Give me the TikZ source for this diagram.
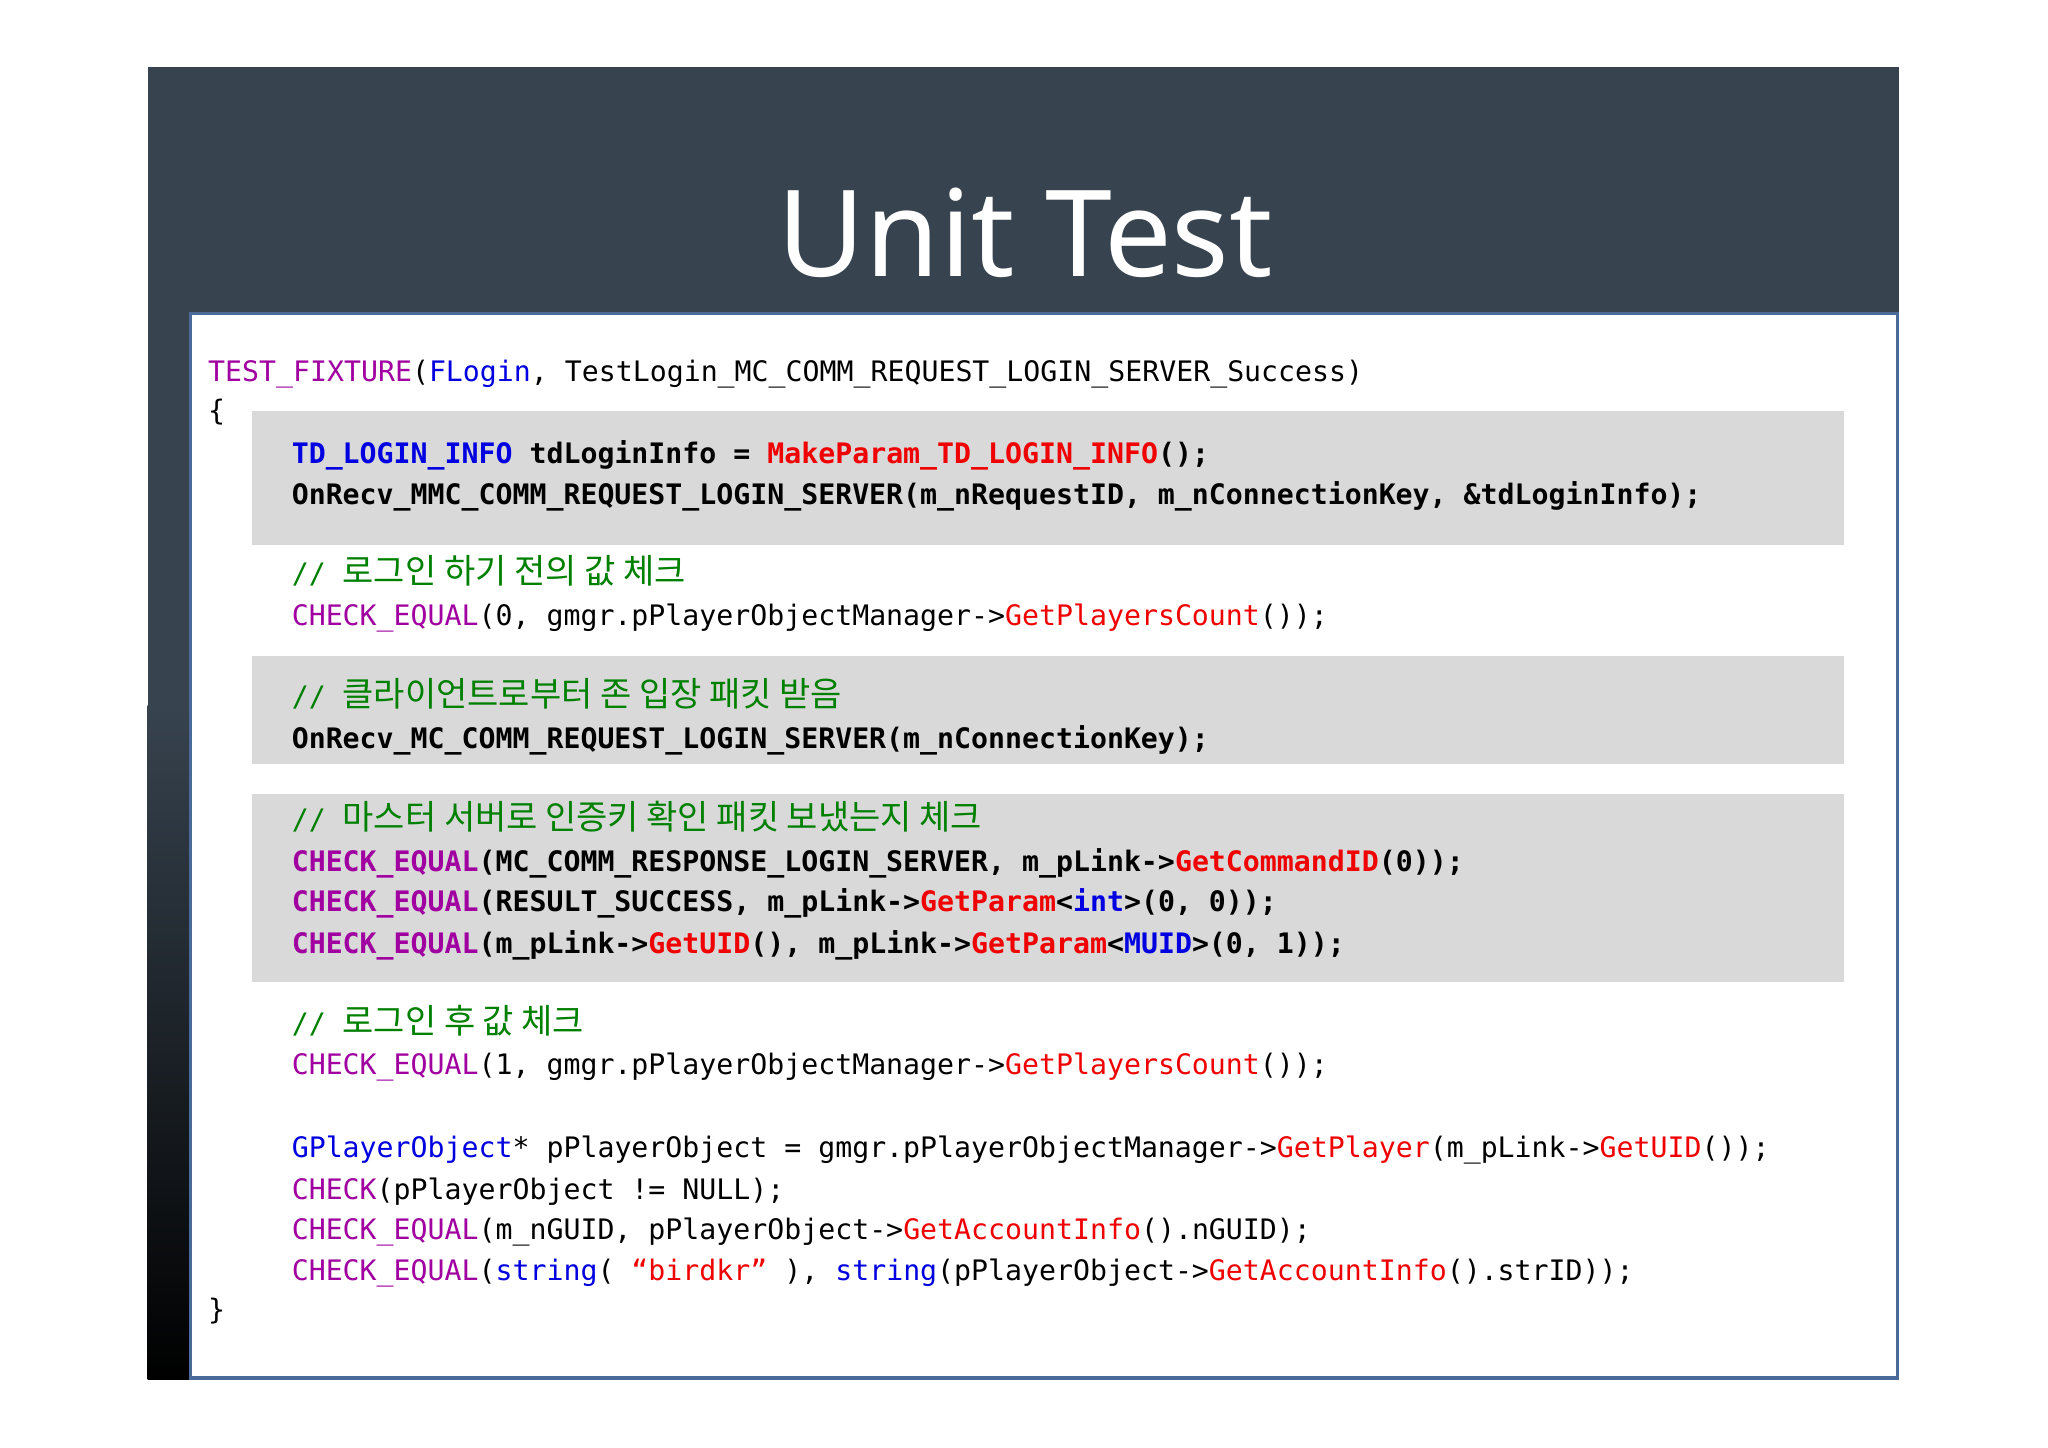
\documentclass[tikz,border=0pt]{standalone}
\usepackage{fontspec}
\setmonofont{DejaVu Sans Mono}
\newfontfamily\kr{Noto Sans CJK KR}
\newfontfamily\titlefont{Noto Sans}
\definecolor{slate}{HTML}{37434F}
\definecolor{band}{HTML}{D9D9D9}
\definecolor{mg}{HTML}{A000A0}
\definecolor{rd}{HTML}{F00000}
\definecolor{bl}{HTML}{0000E0}
\definecolor{gr}{HTML}{008000}
\definecolor{frame}{HTML}{4A6A9A}
\newcommand\M[1]{\textcolor{mg}{#1}}
\newcommand\R[1]{\textcolor{rd}{#1}}
\newcommand\B[1]{\textcolor{bl}{#1}}
\newcommand\G[1]{\textcolor{gr}{#1}}
\newcommand\K[1]{{\kr\fontsize{13}{13}\selectfont #1}}
\begin{document}
\begin{tikzpicture}[x=0.5pt,y=-0.5pt,
  code/.style={anchor=base west,inner sep=0pt,font=\ttfamily\fontsize{10.8}{12}\selectfont},
  bcode/.style={code,font=\ttfamily\bfseries\fontsize{10.8}{12}\selectfont}]
\useasboundingbox (0,0) rectangle (1568,1108);
\fill[white] (0,0) rectangle (1568,1108);
\fill[slate] (113,51) rectangle (1454,1056);
\shade[top color=slate,bottom color=black] (113,540) rectangle (146,1056);
\node[text=white,font=\titlefont\bfseries\fontsize{46}{50}\selectfont] (title) at (785,178) {Unit Test};
\draw[frame,line width=1.2pt,fill=white] (146,240) rectangle (1453,1055);
\fill[band] (193,315) rectangle (1412,417);
\fill[band] (193,502) rectangle (1412,585);
\fill[band] (193,608) rectangle (1412,752);
\node[code] (l1) at (159,292) {\M{TEST\_FIXTURE}(\B{FLogin}, TestLogin\_MC\_COMM\_REQUEST\_LOGIN\_SERVER\_Success)};
\node[code] (l2) at (159,322) {\{};
\node[bcode] (l3) at (223,355) {\B{TD\_LOGIN\_INFO} tdLoginInfo = \R{MakeParam\_TD\_LOGIN\_INFO}();};
\node[bcode] (l4) at (223,386) {OnRecv\_MMC\_COMM\_REQUEST\_LOGIN\_SERVER(m\_nRequestID, m\_nConnectionKey, \&tdLoginInfo);};
\node[code] (l5) at (223,447) {\G{// \K{로그인 하기 전의 값 체크}}};
\node[code] (l6) at (223,479) {\M{CHECK\_EQUAL}(0, gmgr.pPlayerObjectManager->\R{GetPlayersCount}());};
\node[code] (l7) at (223,541) {\G{// \K{클라이언트로부터 존 입장 패킷 받음}}};
\node[bcode] (l8) at (223,573) {OnRecv\_MC\_COMM\_REQUEST\_LOGIN\_SERVER(m\_nConnectionKey);};
\node[code] (l9) at (223,635) {\G{// \K{마스터 서버로 인증키 확인 패킷 보냈는지 체크}}};
\node[bcode] (l10) at (223,667) {\M{CHECK\_EQUAL}(MC\_COMM\_RESPONSE\_LOGIN\_SERVER, m\_pLink->\R{GetCommandID}(0));};
\node[bcode] (l11) at (223,698) {\M{CHECK\_EQUAL}(RESULT\_SUCCESS, m\_pLink->\R{GetParam}<\B{int}>(0, 0));};
\node[bcode] (l12) at (223,730) {\M{CHECK\_EQUAL}(m\_pLink->\R{GetUID}(), m\_pLink->\R{GetParam}<\B{MUID}>(0, 1));};
\node[code] (l13) at (223,791) {\G{// \K{로그인 후 값 체크}}};
\node[code] (l14) at (223,823) {\M{CHECK\_EQUAL}(1, gmgr.pPlayerObjectManager->\R{GetPlayersCount}());};
\node[code] (l15) at (223,886) {\B{GPlayerObject}* pPlayerObject = gmgr.pPlayerObjectManager->\R{GetPlayer}(m\_pLink->\R{GetUID}());};
\node[code] (l16) at (223,918) {\M{CHECK}(pPlayerObject != NULL);};
\node[code] (l17) at (223,949) {\M{CHECK\_EQUAL}(m\_nGUID, pPlayerObject->\R{GetAccountInfo}().nGUID);};
\node[code] (l18) at (223,980) {\M{CHECK\_EQUAL}(\B{string}( \R{“birdkr”} ), \B{string}(pPlayerObject->\R{GetAccountInfo}().strID));};
\node[code] (l19) at (159,1010) {\}};
\end{tikzpicture}
\end{document}
